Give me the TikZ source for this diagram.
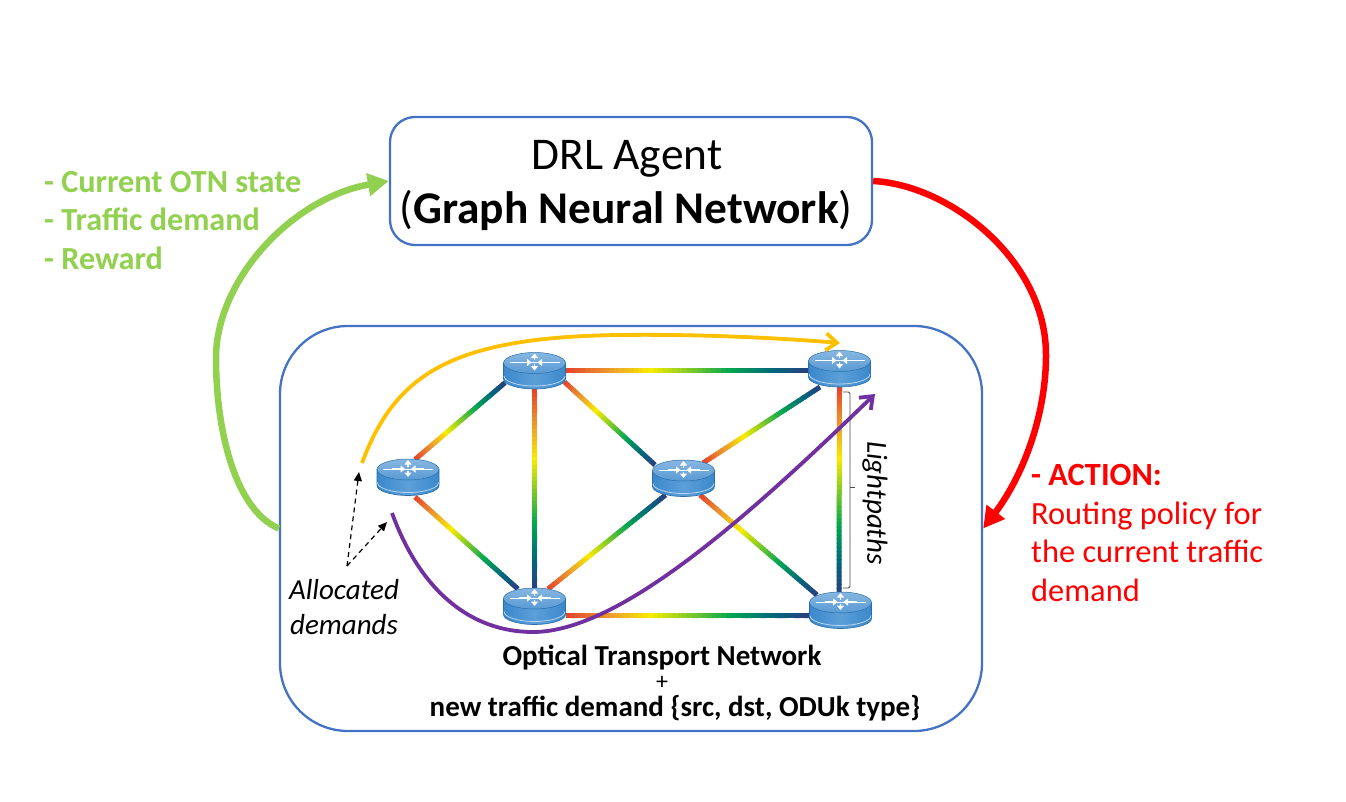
\documentclass[tikz,border=0pt]{standalone}
\usepackage{fontspec}
\setmainfont{Carlito}
\usetikzlibrary{arrows.meta,calc,shapes.geometric}
\definecolor{boxBlue}{HTML}{4472C4}
\definecolor{lpRed}{HTML}{E5402B}
\definecolor{lpOrange}{HTML}{EC9A2E}
\definecolor{lpYellow}{HTML}{F8EC00}
\definecolor{lpGreen}{HTML}{00A651}
\definecolor{lpTeal}{HTML}{00697A}
\definecolor{lpNavy}{HTML}{2A3F80}
\definecolor{stateGreen}{HTML}{92D050}
\definecolor{actionRed}{HTML}{FF0000}
\definecolor{routeOrange}{HTML}{FFC000}
\definecolor{routePurple}{HTML}{7030A0}
\definecolor{routerTop}{HTML}{6AA5DA}
\definecolor{routerSide}{HTML}{3B88CC}
\definecolor{routerMid}{HTML}{5C9FD8}
\definecolor{routerEdge}{HTML}{2B6FA8}
\tikzset{
  panel/.style={draw=boxBlue,line width=2.3pt,fill=white},
  routerslot/.style={ellipse,minimum width=62pt,minimum height=36pt,inner sep=0pt},
  flow/.style={line width=6.5pt},
  route/.style={line width=3.8pt},
  label/.style={inner sep=0pt,align=left,font=\fontsize{32.4}{38.6}\selectfont},
  small/.style={inner sep=0pt,align=center,font=\fontsize{29}{35}\selectfont\itshape},
  caption/.style={inner sep=0pt,anchor=base,font=\fontsize{29}{30}\selectfont\bfseries},
  title/.style={inner sep=0pt,anchor=base,font=\fontsize{45.4}{54}\selectfont},
  dasharrow/.style={black,line width=1.2pt,dash pattern=on 5pt off 4pt,-{Triangle[length=9pt,width=8pt]}},
  whitearrow/.style={white,line width=1.6pt,-{Triangle[length=4.5pt,width=7pt]}},
}
% colour along a lightpath: #1 is the position from 0 to 100
\newcommand{\lpcolor}[1]{%
  \pgfmathsetmacro\lpt{#1}%
  \ifdim\lpt pt<18pt
    \pgfmathsetmacro\lpm{\lpt/18*100}\colorlet{lpc}{lpOrange!\lpm!lpRed}%
  \else\ifdim\lpt pt<35pt
    \pgfmathsetmacro\lpm{(\lpt-18)/17*100}\colorlet{lpc}{lpYellow!\lpm!lpOrange}%
  \else\ifdim\lpt pt<68pt
    \pgfmathsetmacro\lpm{(\lpt-35)/33*100}\colorlet{lpc}{lpGreen!\lpm!lpYellow}%
  \else\ifdim\lpt pt<85pt
    \pgfmathsetmacro\lpm{(\lpt-68)/17*100}\colorlet{lpc}{lpTeal!\lpm!lpGreen}%
  \else
    \pgfmathsetmacro\lpm{(\lpt-85)/15*100}\colorlet{lpc}{lpNavy!\lpm!lpTeal}%
  \fi\fi\fi\fi}
% multicoloured link: router #1 at offset #2 to router #3 at offset #4
\newcommand{\lightpath}[4]{%
  \coordinate (lpA) at ($(#1)+(#2)$);
  \coordinate (lpB) at ($(#3)+(#4)$);
  \foreach \k in {0,...,49}{%
    \lpcolor{\k*2+1}%
    \pgfmathsetmacro\ua{\k/50}%
    \pgfmathsetmacro\ub{min((\k+1.25)/50,1)}%
    \draw[lpc,line width=5pt] ($(lpA)!\ua!(lpB)$) -- ($(lpA)!\ub!(lpB)$);
  }}
% router symbol drawn over its named slot
\newcommand{\routerart}[1]{%
  \begin{scope}[shift={(#1.center)}]
    \path[draw=routerEdge,line width=.6pt,left color=routerSide,right color=routerSide,middle color=routerMid]
      (-31,-8) -- (-31,8) .. controls (-31,13.5) and (-17,18) .. (0,18)
      .. controls (17,18) and (31,13.5) .. (31,8) -- (31,-8) -- cycle;
    \draw[white!65!routerSide,line width=.8pt] (-30.5,5) .. controls (-30.5,10.5) and (-17,15) .. (0,15)
      .. controls (17,15) and (30.5,10.5) .. (30.5,5);
    \path[draw=routerEdge,line width=.5pt,top color=routerTop!80!white,bottom color=routerSide!85!white]
      (0,-8) ellipse [x radius=31pt,y radius=10.5pt];
    \draw[white,line width=.9pt] (-25,-8.5) -- (25,-8.5);
    \draw[whitearrow] (-16,-8.5) -- (-3,-8.5);
    \draw[whitearrow] (16,-8.5) -- (3,-8.5);
    \draw[whitearrow] (0,-11) -- (0,-17.5);
    \draw[whitearrow] (0,-7) -- (0,-0.5);
  \end{scope}}
\begin{document}
\begin{tikzpicture}[x=1pt,y=-1pt]
  \useasboundingbox (0,0) rectangle (1346,802);
  \fill[white] (0,0) rectangle (1346,802);

  % the two main blocks
  \node[panel,rounded corners=25pt,minimum width=482pt,minimum height=128pt,inner sep=0pt] (agent) at (631,181) {};
  \node[panel,rounded corners=68pt,minimum width=702pt,minimum height=405pt,inner sep=0pt] (net) at (631,528.5) {};
  \node[title] (agentname) at (627,170) {DRL Agent};
  \node[title] (agentkind) at (626,224) {(\textbf{Graph Neural Network})};

  % routers
  \node[routerslot] (r1) at (408,477.5) {};
  \node[routerslot] (r2) at (534.5,371) {};
  \node[routerslot] (r3) at (534.5,606.5) {};
  \node[routerslot] (r4) at (683.5,478.5) {};
  \node[routerslot] (r5) at (839.5,369) {};
  \node[routerslot] (r6) at (840.5,610.5) {};

  % lightpaths
  \lightpath{r1}{7,-18}{r2}{-29.5,11.7}
  \lightpath{r1}{7,19.5}{r3}{-16.5,-17.5}
  \lightpath{r2}{0,18}{r3}{0,-18}
  \lightpath{r2}{30,11}{r4}{-28.5,-13.5}
  \lightpath{r2}{31,-1}{r5}{-31,1}
  \lightpath{r3}{13.5,-17.5}{r4}{-18,16.5}
  \lightpath{r3}{31,9}{r6}{-31.5,5}
  \lightpath{r4}{19.5,-15.5}{r5}{-19.5,18}
  \lightpath{r4}{16.5,16.5}{r6}{-23.5,-15.5}
  \lightpath{r5}{0,18}{r6}{-1.5,-18.5}
  \routerart{r1}\routerart{r2}\routerart{r3}\routerart{r4}\routerart{r5}\routerart{r6}

  % feedback loop between network and agent
  \draw[flow,stateGreen,-{Triangle[length=21pt,width=22pt]}]
    (net.west) .. controls (235,510) and (216,430) .. (216,358)
    .. controls (216,280) and (292,198) .. (agent.west);
  \draw[flow,actionRed,-{Triangle[length=21pt,width=22pt]}]
    (agent.east) .. controls (950,185) and (1046,260) .. (1046,355)
    .. controls (1046,420) and (1020,480) .. (net.east);

  % demand routes
  \coordinate (orangeStart) at (362,463);
  \coordinate (orangeEnd) at (840,343);
  \coordinate (purpleStart) at (392,513);
  \coordinate (purpleEnd) at (875,394);
  \draw[route,routeOrange,-{Straight Barb[length=11pt,width=17pt]}]
    (orangeStart) .. controls (395,375) and (450,337) .. (620,335)
    .. controls (700,334) and (780,338) .. (orangeEnd);
  \draw[route,routePurple,-{Straight Barb[length=11pt,width=17pt]}]
    (purpleStart) .. controls (420,590) and (470,632) .. (533,632)
    .. controls (620,632) and (750,515) .. (purpleEnd);

  % allocated demands callout
  \coordinate (callout) at (347,566);
  \coordinate (calloutA) at (359,472);
  \coordinate (calloutB) at (387,522);
  \draw[dasharrow] (callout) -- (calloutA);
  \draw[dasharrow] (callout) -- (calloutB);
  \node[small,anchor=center] (allocated) at (344,607) {Allocated\\demands};

  % lightpaths bracket and its label
  \coordinate (brTop) at (843,392);
  \coordinate (brBottom) at (843,588);
  \coordinate (brTick) at (855,487);
  \draw[black!70,line width=.8pt,rounded corners=1.5pt] (brTop) -- (850,392) -- (850,588) -- (brBottom);
  \draw[black!70,line width=.8pt] (850,487) -- (brTick);
  \node[small,rotate=-90,anchor=center] (lightlabel) at (875,503) {Lightpaths};

  % captions
  \node[label,text=stateGreen,anchor=north west,font=\fontsize{32.2}{38.6}\selectfont\bfseries] (state) at (44,171) {- Current OTN state\\- Traffic demand\\- Reward};
  \node[label,text=actionRed,anchor=north west] (action) at (1031,464) {\textbf{- ACTION:}\\Routing policy for\\the current traffic\\demand};
  \node[caption] (otn) at (662,665) {Optical Transport Network};
  \node[inner sep=0pt,anchor=base,font=\fontsize{24}{25}\selectfont] (plus) at (662,689) {+};
  \node[caption] (demand) at (675,716) {new traffic demand \{src, dst, ODUk type\}};
\end{tikzpicture}
\end{document}
